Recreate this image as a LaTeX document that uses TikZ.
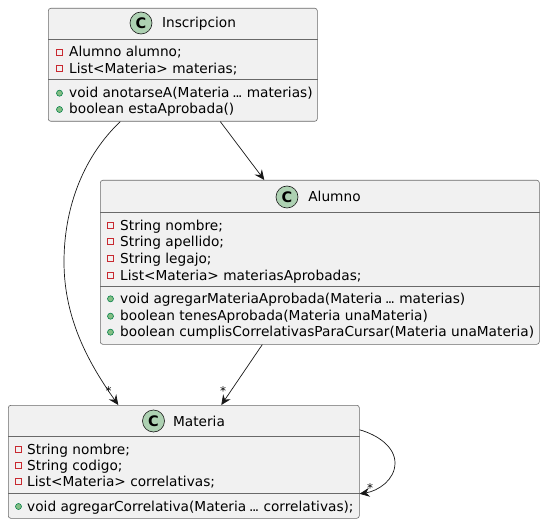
\documentclass[tikz,border=0pt]{standalone}
\usepackage{fontspec}
\setmainfont{DejaVu Sans}
\usetikzlibrary{arrows.meta}
\definecolor{boxfill}{HTML}{F1F1F1}
\definecolor{boxline}{HTML}{181818}
\definecolor{spotfill}{HTML}{ADD1B2}
\definecolor{privred}{HTML}{C82930}
\definecolor{pubfill}{HTML}{84BE84}
\definecolor{publine}{HTML}{038048}
\newcommand{\threedots}{\kern-1.5pt.\kern-1.5pt.\kern-1.5pt.\kern-1.5pt}
\begin{document}
\begin{tikzpicture}[
  x=1pt, y=-1pt,
  classbox/.style={draw=boxline!65, line width=0.6pt, fill=boxfill, rounded corners=2.5pt, inner sep=0pt, anchor=north west},
  spot/.style={circle, draw=boxline, line width=0.6pt, fill=spotfill, minimum size=22pt, inner sep=0pt, font=\fontsize{14.5}{14.5}\selectfont\bfseries},
  title/.style={anchor=base, inner sep=0pt, font=\fontsize{13.7}{15}\selectfont},
  member/.style={anchor=base west, inner sep=0pt, font=\fontsize{13.7}{15}\selectfont},
  privmark/.style={rectangle, draw=privred, line width=0.6pt, minimum size=6pt, inner sep=0pt},
  pubmark/.style={circle, draw=publine, line width=0.6pt, fill=pubfill, minimum size=6pt, inner sep=0pt},
  rule/.style={draw=boxline!65, line width=0.6pt},
  link/.style={draw=boxline, line width=0.7pt, -{Stealth[length=10pt,width=9pt,inset=3.5pt]}},
  mult/.style={inner sep=0pt, font=\fontsize{12}{12}\selectfont}
]
\useasboundingbox (0,0) rectangle (544,524);
% Inscripcion
\node[classbox, minimum width=269pt, minimum height=113pt] (inscripcion) at (48,8) {};
\node[spot] (inscripcionSpot) at (141,23) {C};
\node[title] (inscripcionTitle) at (199,28) {Inscripcion};
\draw[rule] (inscripcion.west |- 0,39) -- (inscripcion.east |- 0,39);
\draw[rule] (inscripcion.west |- 0,79) -- (inscripcion.east |- 0,79);
\foreach \rowy/\rowtext in {57/Alumno alumno;, 73.5/List<Materia> materias;} {
  \node[privmark] (inscripcionPriv\rowy) at (59.5,\rowy-5) {};
  \node[member] (inscripcionRow\rowy) at (69,\rowy) {\rowtext};
}
\foreach \rowy/\rowtext in {97.7/void anotarseA(Materia \threedots{} materias), 114/boolean estaAprobada()} {
  \node[pubmark] (inscripcionPub\rowy) at (59.5,\rowy-4.5) {};
  \node[member] (inscripcionRow\rowy) at (69,\rowy) {\rowtext};
}
% Alumno
\node[classbox, minimum width=439pt, minimum height=164pt] (alumno) at (100,180) {};
\node[spot] (alumnoSpot) at (287,197) {C};
\node[title] (alumnoTitle) at (334.5,202) {Alumno};
\draw[rule] (alumno.west |- 0,212.5) -- (alumno.east |- 0,212.5);
\draw[rule] (alumno.west |- 0,286.5) -- (alumno.east |- 0,286.5);
\foreach \rowy/\rowtext in {230/String nombre;, 246.7/String apellido;, 263.3/String legajo;, 280/List<Materia> materiasAprobadas;} {
  \node[privmark] (alumnoPriv\rowy) at (110.5,\rowy-5) {};
  \node[member] (alumnoRow\rowy) at (120,\rowy) {\rowtext};
}
\foreach \rowy/\rowtext in {303.3/void agregarMateriaAprobada(Materia \threedots{} materias), 320.7/boolean tenesAprobada(Materia unaMateria), 336.7/boolean cumplisCorrelativasParaCursar(Materia unaMateria)} {
  \node[pubmark] (alumnoPub\rowy) at (110.5,\rowy-4.5) {};
  \node[member] (alumnoRow\rowy) at (120,\rowy) {\rowtext};
}
% Materia
\node[classbox, minimum width=351pt, minimum height=113pt] (materia) at (8,405) {};
\node[spot] (materiaSpot) at (153.5,421) {C};
\node[title] (materiaTitle) at (199,426) {Materia};
\draw[rule] (materia.west |- 0,436.5) -- (materia.east |- 0,436.5);
\draw[rule] (materia.west |- 0,493.5) -- (materia.east |- 0,493.5);
\foreach \rowy/\rowtext in {454/String nombre;, 470/String codigo;, 486.7/List<Materia> correlativas;} {
  \node[privmark] (materiaPriv\rowy) at (18.5,\rowy-5) {};
  \node[member] (materiaRow\rowy) at (27,\rowy) {\rowtext};
}
\node[pubmark] (materiaPub) at (18.5,506.5) {};
\node[member] (materiaRowAgregar) at (27,511) {void agregarCorrelativa(Materia \threedots{} correlativas);};
% links
\draw[link] ([xshift=-62.5pt]inscripcion.south) .. controls (85,155) and (64,205) .. (64,262) .. controls (64,320) and (90,365) .. ([xshift=-65.5pt]materia.north);
\draw[link] ([xshift=37.5pt]inscripcion.south) -- ([xshift=-55.5pt]alumno.north);
\draw[link] ([xshift=-57.5pt]alumno.south) -- ([xshift=37.5pt]materia.north);
\draw[link] ([yshift=32pt]materia.east) .. controls (378,435) and (395,447) .. (395,463) .. controls (395,480) and (378,491) .. ([yshift=-32pt]materia.east);
\node[mult] (starOne) at (108.5,391) {*};
\node[mult] (starTwo) at (223,391) {*};
\node[mult] (starThree) at (370,488) {*};
\end{tikzpicture}
\end{document}
